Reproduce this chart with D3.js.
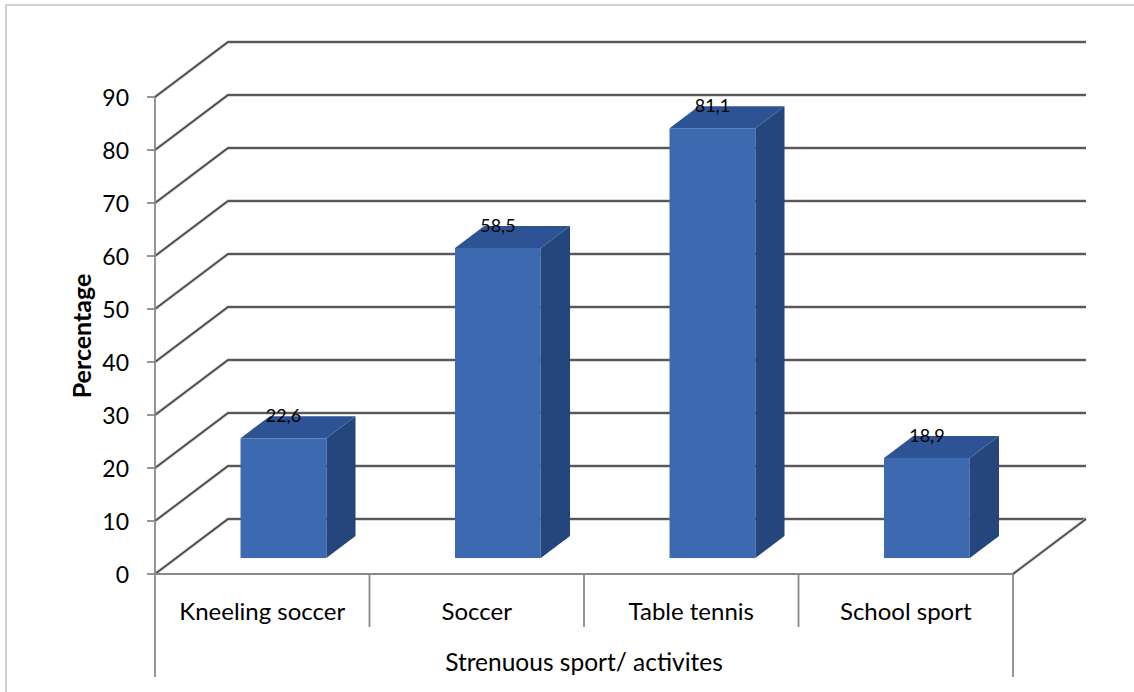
<!DOCTYPE html>
<html><head><meta charset="utf-8">
<script src="https://cdn.jsdelivr.net/npm/d3@7"></script>
<style>html,body{margin:0;padding:0;background:#fff;}</style>
</head><body>
<svg id="c" width="1134" height="692"></svg>
<script>
const categories = ["Kneeling soccer", "Soccer", "Table tennis", "School sport"];
const values = [22.6, 58.5, 81.1, 18.9];
const valueLabels = ["22,6", "58,5", "81,1", "18,9"];
const yTicks = [0, 10, 20, 30, 40, 50, 60, 70, 80, 90];
const yTitle = "Percentage";
const xTitle = "Strenuous sport/ activites";

const svg = d3.select("#c");
const font = "Lato, 'Open Sans', sans-serif";
const x0 = 155, x1 = 1013, yTop = 97, yBase = 574;
const DX = 73, DY = -55;         // depth of the 3D box
const f0 = 0.29, f1 = 0.69;      // bar depth position
const x = d3.scaleBand().domain(categories).range([x0, x1]).paddingInner(0).paddingOuter(0);
const y = d3.scaleLinear().domain([0, 90]).range([yBase, yTop]);

// outer border
svg.append("rect").attr("x", 6).attr("y", 5).attr("width", 1140).attr("height", 700)
  .attr("fill", "none").attr("stroke", "#c4c4c4").attr("stroke-width", 1.5);

// gridlines (side wall + back wall)
const g = svg.append("g");
yTicks.forEach(v => {
  const yy = y(v);
  g.append("polyline")
    .attr("points", `${x0},${yy} ${x0 + DX},${yy + DY} ${x1 + DX},${yy + DY}`)
    .attr("fill", "none").attr("stroke", "#b5b5b5").attr("stroke-width", 3);
  g.append("polyline")
    .attr("points", `${x0},${yy} ${x0 + DX},${yy + DY} ${x1 + DX},${yy + DY}`)
    .attr("fill", "none").attr("stroke", "#3a3a3a").attr("stroke-width", 1.3);
});
// floor right edge
g.append("line").attr("x1", x1).attr("y1", yBase).attr("x2", x1 + DX).attr("y2", yBase + DY)
  .attr("stroke", "#b5b5b5").attr("stroke-width", 3);
g.append("line").attr("x1", x1).attr("y1", yBase).attr("x2", x1 + DX).attr("y2", yBase + DY)
  .attr("stroke", "#3a3a3a").attr("stroke-width", 1.3);

// bars
const bw = x.bandwidth() * 0.4;
const bars = svg.append("g");
categories.forEach((c, i) => {
  const v = values[i];
  const cx = x(c) + x.bandwidth() / 2 + f0 * DX;
  const xl = cx - bw / 2, xr = cx + bw / 2;
  const yb = yBase + f0 * DY, yt = y(v) + f0 * DY;
  const ddx = (f1 - f0) * DX, ddy = (f1 - f0) * DY;
  bars.append("polygon")
    .attr("points", `${xr},${yt} ${xr + ddx},${yt + ddy} ${xr + ddx},${yb + ddy} ${xr},${yb}`)
    .attr("fill", "#25467c");
  bars.append("polygon")
    .attr("points", `${xl},${yt} ${xl + ddx},${yt + ddy} ${xr + ddx},${yt + ddy} ${xr},${yt}`)
    .attr("fill", "#2e5394");
  bars.append("rect").attr("x", xl).attr("y", yt).attr("width", bw).attr("height", yb - yt)
    .attr("fill", "#3d69b1");
  svg.append("text").attr("x", cx).attr("y", yt + ddy - 1)
    .attr("text-anchor", "middle").attr("dominant-baseline", "central")
    .attr("font-family", font).attr("font-size", 18).attr("fill", "#000")
    .text(valueLabels[i]);
});

// front axes
const ax = svg.append("g").attr("stroke", "#8a8a8a").attr("stroke-width", 1.8);
ax.append("line").attr("x1", x0).attr("y1", yTop).attr("x2", x0).attr("y2", 677);
ax.append("line").attr("x1", x0).attr("y1", yBase).attr("x2", x1).attr("y2", yBase);
ax.append("line").attr("x1", x1).attr("y1", yBase).attr("x2", x1).attr("y2", 677);
categories.slice(1).forEach(c => {
  ax.append("line").attr("x1", x(c)).attr("y1", yBase).attr("x2", x(c)).attr("y2", 627);
});
yTicks.forEach(v => {
  ax.append("line").attr("x1", x0 - 8).attr("y1", y(v)).attr("x2", x0).attr("y2", y(v));
});

// tick labels
yTicks.forEach(v => {
  svg.append("text").attr("x", 129).attr("y", y(v))
    .attr("text-anchor", "end").attr("dominant-baseline", "central")
    .attr("font-family", font).attr("font-size", 23).attr("fill", "#000").text(v);
});
// category labels
categories.forEach(c => {
  svg.append("text").attr("x", x(c) + x.bandwidth() / 2).attr("y", 610)
    .attr("text-anchor", "middle").attr("dominant-baseline", "central")
    .attr("font-family", font).attr("font-size", 24).attr("fill", "#000").text(c);
});
// axis titles
svg.append("text").attr("x", x0 + (x1 - x0) / 2).attr("y", 661)
  .attr("text-anchor", "middle").attr("dominant-baseline", "central")
  .attr("font-family", font).attr("font-size", 24.5).attr("fill", "#000").text(xTitle);
svg.append("text").attr("transform", "translate(81,336) rotate(-90)")
  .attr("text-anchor", "middle").attr("dominant-baseline", "central")
  .attr("font-family", font).attr("font-size", 25).attr("font-weight", "bold").attr("fill", "#000").text(yTitle);
</script>
</body></html>
